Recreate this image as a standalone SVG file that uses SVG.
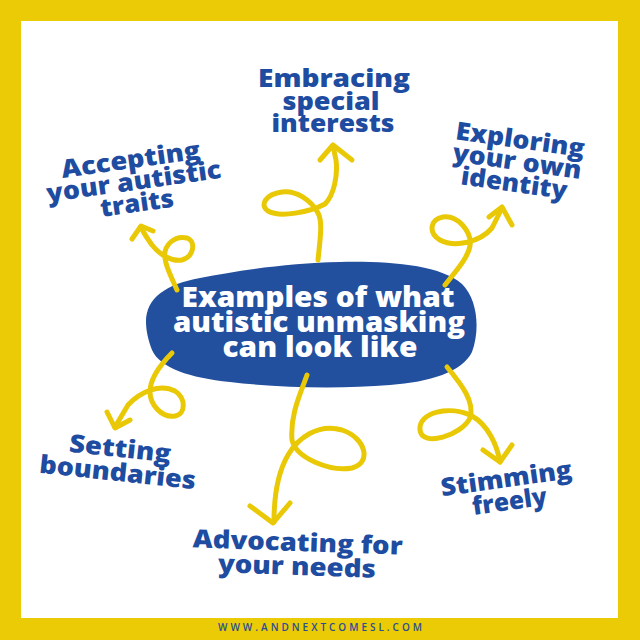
<svg xmlns="http://www.w3.org/2000/svg" width="640" height="640" viewBox="0 0 640 640">
<style>
.lbl{font-family:"Open Sans","Inter","Liberation Sans",sans-serif;font-weight:800;fill:#1E4CA0;font-size:25px;text-anchor:middle}
.ctr{font-family:"Open Sans","Inter","Liberation Sans",sans-serif;font-weight:800;fill:#FFFFFF;font-size:28px;text-anchor:middle}
.arr{fill:none;stroke:#E9C905;stroke-width:5;stroke-linecap:round;stroke-linejoin:round}
.foot{font-family:"Open Sans","Liberation Sans",sans-serif;font-weight:600;fill:#2A4C96;font-size:10px;text-anchor:middle}
</style>
<rect x="0" y="0" width="640" height="640" fill="#EACB06"/>
<rect x="21" y="21" width="597" height="597" fill="#FFFFFF"/>
<text class="foot" x="320" y="631" textLength="204" lengthAdjust="spacing">WWW.ANDNEXTCOMESL.COM</text>

<g id="center">
<path d="M146,322 C146,298 166,284 200,278 C240,270 290,263 340,262 C390,261 440,265 462,284 C478,300 480,330 472,352 C462,372 430,382 390,385 C340,389 280,388 230,382 C190,378 160,368 152,350 C148,340 146,330 146,322 Z" fill="#22509F"/>
<text class="ctr" x="318" y="307" textLength="273" lengthAdjust="spacingAndGlyphs">Examples of what</text>
<text class="ctr" x="319" y="332" textLength="292" lengthAdjust="spacingAndGlyphs">autistic unmasking</text>
<text class="ctr" x="320" y="357" textLength="195" lengthAdjust="spacingAndGlyphs">can look like</text>
</g>

<g id="connectors">
<path class="arr" d="M177,290 C172,278 166,268 165,258 C163,245 175,235 187,238 C197,242 193,257 182,260 C172,262 160,255 152,245 C147,238 143,232 141,227"/>
<path class="arr" d="M132,239 L141,226 L153,231"/>
<path class="arr" d="M318,260 C320,240 323,222 318,213 C311,200 296,190 282,192 C266,194 259,205 268,211 C280,218 310,212 325,204 C334,195 338,175 336,160 L333,146"/>
<path class="arr" d="M320,160 L333,145 L352,160"/>
<path class="arr" d="M445,285 C455,272 468,258 470,246 C472,232 458,215 443,217 C430,219 428,233 440,240 C455,248 480,242 492,228 L502,208"/>
<path class="arr" d="M489,217 L502,207 L512,225"/>
<path class="arr" d="M172,353 C160,365 150,378 150,392 C150,405 162,418 175,416 C186,414 186,398 175,391 C160,383 140,392 128,405 L115,427"/>
<path class="arr" d="M107,412 L115,428 L130,420"/>
<path class="arr" d="M307,375 C300,395 290,415 292,440 C296,458 330,472 352,468 C372,463 366,438 342,430 C318,423 298,438 288,455 C278,472 274,495 274,522"/>
<path class="arr" d="M250,506 L273,523 L290,503"/>
<path class="arr" d="M447,367 C462,385 475,402 470,418 C462,435 422,448 420,430 C418,412 450,405 472,416 C488,425 497,445 500,462"/>
<path class="arr" d="M483,450 L500,462 L512,445"/>
</g>

<g id="accepting" transform="rotate(-8 135 190)">
<text class="lbl" x="135" y="168" textLength="140" lengthAdjust="spacingAndGlyphs">Accepting</text>
<text class="lbl" x="135" y="190" textLength="176" lengthAdjust="spacingAndGlyphs">your autistic</text>
<text class="lbl" x="135" y="212" textLength="74" lengthAdjust="spacingAndGlyphs">traits</text>
</g>

<g id="embracing">
<text class="lbl" x="334" y="87" textLength="152" lengthAdjust="spacingAndGlyphs">Embracing</text>
<text class="lbl" x="331" y="110" textLength="97" lengthAdjust="spacingAndGlyphs">special</text>
<text class="lbl" x="333" y="132" textLength="123" lengthAdjust="spacingAndGlyphs">interests</text>
</g>

<g id="exploring" transform="rotate(8 516 170)">
<text class="lbl" x="516" y="148" textLength="130" lengthAdjust="spacingAndGlyphs">Exploring</text>
<text class="lbl" x="516" y="170" textLength="130" lengthAdjust="spacingAndGlyphs">your own</text>
<text class="lbl" x="516" y="192" textLength="107" lengthAdjust="spacingAndGlyphs">identity</text>
</g>

<g id="setting" transform="rotate(6 118 469)">
<text class="lbl" x="118" y="457" textLength="102" lengthAdjust="spacingAndGlyphs">Setting</text>
<text class="lbl" x="118" y="481" textLength="157" lengthAdjust="spacingAndGlyphs">boundaries</text>
</g>

<g id="advocating" transform="rotate(2 297 563)">
<text class="lbl" x="297" y="551" textLength="210" lengthAdjust="spacingAndGlyphs">Advocating for</text>
<text class="lbl" x="297" y="575" textLength="158" lengthAdjust="spacingAndGlyphs">your needs</text>
</g>

<g id="stimming" transform="rotate(-8 509 498)">
<text class="lbl" x="509" y="487" textLength="132" lengthAdjust="spacingAndGlyphs">Stimming</text>
<text class="lbl" x="509" y="510" textLength="75" lengthAdjust="spacingAndGlyphs">freely</text>
</g>
</svg>
